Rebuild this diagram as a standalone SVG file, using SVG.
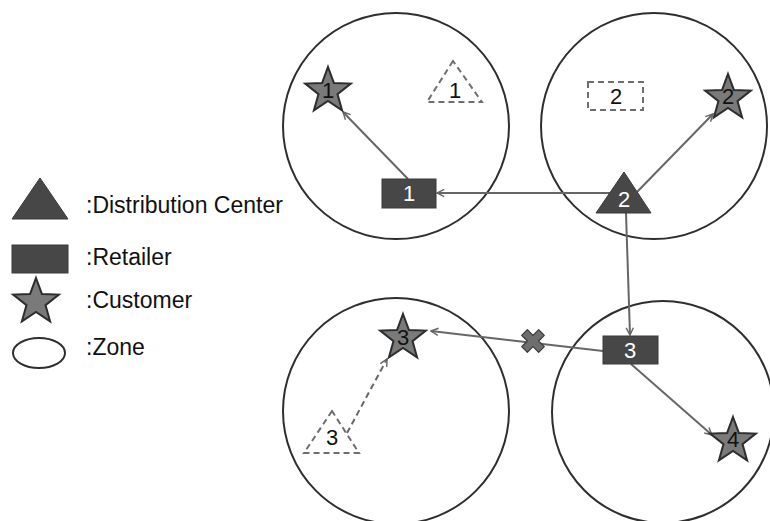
<svg xmlns="http://www.w3.org/2000/svg" xmlns:xlink="http://www.w3.org/1999/xlink" width="770" height="521" viewBox="0 0 770 521">
<style>
.zone{fill:none;stroke:#2e2e2e;stroke-width:2}
.dark{fill:#474747;stroke:#3a3a3a;stroke-width:1}
.star{fill:#7a7a7a;stroke:#2e2e2e;stroke-width:2;stroke-linejoin:miter}
.dash{fill:none;stroke:#6e6e6e;stroke-width:2;stroke-dasharray:6,4}
.conn{stroke:#666;stroke-width:2;fill:none}
.num{font-family:"Liberation Sans",Arial,sans-serif;font-size:22px;text-anchor:middle}
.w{fill:#fff}
.b{fill:#111}
.leg{font-family:"Liberation Sans",Arial,sans-serif;font-size:23px;fill:#111}
</style>
<defs>
<path id="starShape" d="M0,-24 L5.88,-8.09 L22.83,-7.42 L9.51,3.09 L14.11,19.42 L0,10 L-14.11,19.42 L-9.51,3.09 L-22.83,-7.42 L-5.88,-8.09 Z"/>
<marker id="arr" viewBox="0 0 10 10" refX="9" refY="5" markerWidth="9" markerHeight="9" markerUnits="userSpaceOnUse" orient="auto">
<path d="M1,1 L9,5 L1,9" fill="none" stroke="#666" stroke-width="1.6"/>
</marker>
</defs>

<g id="legend">
<polygon class="dark" points="40,178 12,219 68,219"/>
<text class="leg" x="86" y="213">:Distribution Center</text>
<rect class="dark" x="12" y="245" width="56" height="28"/>
<text class="leg" x="86" y="265">:Retailer</text>
<use xlink:href="#starShape" class="star" transform="translate(36,302)"/>
<text class="leg" x="86" y="308">:Customer</text>
<ellipse cx="39" cy="353" rx="26" ry="15" class="zone"/>
<text class="leg" x="86" y="355">:Zone</text>
</g>

<g id="zones">
<circle id="zone1" class="zone" cx="396" cy="126" r="113"/>
<circle id="zone2" class="zone" cx="654" cy="126" r="113"/>
<circle id="zone3" class="zone" cx="396" cy="411" r="113"/>
<circle id="zone4" class="zone" cx="663" cy="412" r="111"/>
</g>

<g id="connectors">
<line class="conn" x1="610" y1="193" x2="437" y2="193" marker-end="url(#arr)"/>
<line class="conn" x1="408" y1="179" x2="343" y2="112" marker-end="url(#arr)"/>
<line class="conn" x1="637" y1="192" x2="713" y2="114" marker-end="url(#arr)"/>
<line class="conn" x1="626" y1="213" x2="630" y2="335" marker-end="url(#arr)"/>
<line class="conn" x1="603" y1="351" x2="431" y2="331" marker-end="url(#arr)"/>
<line class="conn" x1="631" y1="364" x2="712" y2="435" marker-end="url(#arr)"/>
<line class="conn" x1="347" y1="433" x2="387" y2="359" stroke-dasharray="6,4" marker-end="url(#arr)"/>
<g id="blocked" transform="translate(533,341) rotate(45)">
<path d="M-4,-12 H4 V-4 H12 V4 H4 V12 H-4 V4 H-12 V-4 H-4 Z" fill="#6e6e6e" stroke="#3a3a3a" stroke-width="1.2" stroke-linejoin="round"/>
</g>
</g>

<g id="dc2">
<polygon class="dark" points="624,172 596,213 651,213"/>
<text class="num w" x="624" y="207">2</text>
</g>
<g id="dc1-candidate">
<polygon class="dash" points="453,61 427,102 482,102"/>
<text class="num b" x="455" y="98">1</text>
</g>
<g id="dc3-candidate">
<polygon class="dash" points="332,411 304,453 359,453"/>
<text class="num b" x="332" y="445">3</text>
</g>
<g id="retailer1">
<rect class="dark" x="382" y="179" width="54" height="29"/>
<text class="num w" x="409" y="201">1</text>
</g>
<g id="retailer2-candidate">
<rect class="dash" x="588" y="82" width="55" height="28"/>
<text class="num b" x="616" y="104">2</text>
</g>
<g id="retailer3">
<rect class="dark" x="603" y="336" width="55" height="28"/>
<text class="num w" x="630" y="358">3</text>
</g>
<g id="customer1">
<use xlink:href="#starShape" class="star" transform="translate(328,91)"/>
<text class="num b" x="328" y="98">1</text>
</g>
<g id="customer2">
<use xlink:href="#starShape" class="star" transform="translate(728,98)"/>
<text class="num b" x="728" y="104">2</text>
</g>
<g id="customer3">
<use xlink:href="#starShape" class="star" transform="translate(403,338)"/>
<text class="num b" x="403" y="345">3</text>
</g>
<g id="customer4">
<use xlink:href="#starShape" class="star" transform="translate(733,441)"/>
<text class="num b" x="733" y="447">4</text>
</g>
</svg>
